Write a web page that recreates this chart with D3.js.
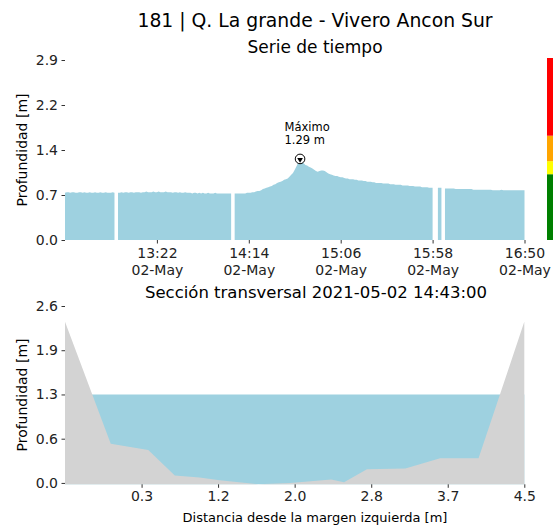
<!DOCTYPE html>
<html>
<head>
<meta charset="utf-8">
<script src="https://cdn.jsdelivr.net/npm/d3@7"></script>
<style>
  body { margin: 0; background: #fff; }
  svg { font-family: "DejaVu Sans", sans-serif; }
</style>
</head>
<body>
<div id="chart"></div>
<script>
// ---- data ----
const stationTitle = '181 | Q. La grande - Vivero Ancon Sur';
const seriesTitle = 'Serie de tiempo';
const sectionTitle = 'Sección transversal 2021-05-02 14:43:00';

// depth readings, one per minute from startTime (null = missing)
const startTime = '2021-05-02 12:30';
const endTime = '2021-05-02 16:50';
const depth = [
  0.76,0.77,0.77,0.76,0.77,0.77,0.76,0.76,0.77,0.77,
  0.76,0.77,0.76,0.76,0.77,0.76,0.76,0.77,0.76,0.76,
  0.77,0.76,0.76,0.77,0.76,0.76,0.76,0.77,0.76,null,
  0.76,0.76,0.77,0.76,0.77,0.77,0.76,0.77,0.77,0.76,
  0.77,0.77,0.77,0.76,0.77,0.77,0.78,0.77,0.77,0.77,
  0.78,0.77,0.77,0.78,0.77,0.77,0.77,0.78,0.77,0.77,
  0.77,0.76,0.77,0.77,0.76,0.77,0.76,0.76,0.77,0.76,
  0.76,0.76,0.75,0.76,0.76,0.75,0.76,0.75,0.76,0.75,
  0.75,0.76,0.75,0.75,0.75,0.76,0.75,0.75,0.75,0.75,
  0.75,0.75,0.75,0.75,0.75,null,0.75,0.75,0.75,0.75,
  0.75,0.75,0.75,0.76,0.76,0.76,0.77,0.77,0.78,0.79,
  0.79,0.80,0.82,0.83,0.84,0.85,0.86,0.87,0.89,0.90,
  0.92,0.93,0.94,0.95,0.97,0.98,0.99,1.02,1.05,1.08,
  1.13,1.19,1.25,1.29,1.27,1.24,1.21,1.20,1.18,1.17,
  1.15,1.13,1.11,1.10,1.11,1.12,1.12,1.11,1.09,1.07,
  1.06,1.05,1.04,1.03,1.03,1.02,1.01,1.01,1.00,0.99,
  0.99,0.98,0.98,0.98,0.97,0.97,0.96,0.96,0.96,0.95,
  0.95,0.94,0.94,0.94,0.93,0.93,0.92,0.92,0.92,0.92,
  0.91,0.91,0.91,0.91,0.90,0.90,0.90,0.89,0.89,0.89,
  0.89,0.88,0.88,0.88,0.88,0.87,0.87,0.87,0.86,0.86,
  0.86,0.86,0.85,0.85,0.85,0.85,0.84,0.84,0.84,null,
  null,0.84,0.84,0.84,null,0.83,0.83,0.83,0.83,0.83,
  0.83,0.82,0.82,0.82,0.82,0.82,0.82,0.82,0.82,0.82,
  0.82,0.81,0.81,0.81,0.81,0.81,0.81,0.81,0.81,0.81,
  0.81,0.81,0.80,0.80,0.80,0.80,0.80,0.81,0.80,0.80,
  0.80,0.80,0.80,0.80,0.80,0.80,0.80,0.80,0.80,0.80,
  0.80
];
const maxTime = '2021-05-02 14:43';
const maxDepth = 1.29;

const topYTicks = [0, 0.725, 1.45, 2.175, 2.9];
const topYLabels = ['0.0', '0.7', '1.4', '2.2', '2.9'];
const topXTicks = ['2021-05-02 13:22', '2021-05-02 14:14', '2021-05-02 15:06', '2021-05-02 15:58', '2021-05-02 16:50'];

// alert bands for the colour bar
const alertBounds = [0, 1.06, 1.27, 1.68, 2.9];
const alertColors = ['#008000', '#ffff00', '#ffa500', '#ff0000'];

// cross section
const sectionX = [-0.5, 0.0, 0.41, 0.70, 0.97, 1.19, 1.61, 1.96, 2.41, 2.55, 2.80, 3.22, 3.60, 4.02, 4.52];
const sectionZ = [2.35, 0.57, 0.48, 0.11, 0.08, 0.04, -0.02, 0.0, 0.05, 0.01, 0.20, 0.21, 0.36, 0.36, 2.35];
const waterLevel = 1.29;

const botYTicks = [0, 0.645, 1.29, 1.935, 2.58];
const botYLabels = ['0.0', '0.6', '1.3', '1.9', '2.6'];
const botXTicks = [0.337, 1.173, 2.01, 2.847, 3.683, 4.52];
const botXLabels = ['0.3', '1.2', '2.0', '2.8', '3.7', '4.5'];

// ---- layout ----
const width = 553, height = 527;
const water = '#9ed1e0';
const ground = '#d3d3d3';

const svg = d3.select('#chart').append('svg')
  .attr('width', width)
  .attr('height', height);

const parse = d3.timeParse('%Y-%m-%d %H:%M');
const t0 = parse(startTime);
const points = depth.map((v, i) => ({ t: d3.timeMinute.offset(t0, i), v }));

function styleAxis(g) {
  g.attr('font-family', null).attr('font-size', null);
  g.select('.domain').remove();
  g.selectAll('.tick line').attr('stroke', '#333');
  g.selectAll('.tick text').attr('font-size', 14).attr('fill', '#222');
}

// titles
svg.append('text').attr('x', 315).attr('y', 27).attr('text-anchor', 'middle')
  .attr('font-size', 18.8).text(stationTitle);
svg.append('text').attr('x', 315).attr('y', 53).attr('text-anchor', 'middle')
  .attr('font-size', 17).text(seriesTitle);

// ---- time series ----
const x = d3.scaleTime()
  .domain([parse(startTime), parse(endTime)])
  .range([65, 524.5]);
const y = d3.scaleLinear().domain([0, 2.9]).range([240, 60]);

const area = d3.area()
  .defined(d => d.v != null)
  .x(d => x(d.t))
  .y0(y(0))
  .y1(d => y(d.v));

svg.append('path')
  .datum(points)
  .attr('fill', water)
  .attr('d', area);

svg.append('g')
  .attr('transform', 'translate(65,0)')
  .call(d3.axisLeft(y).tickValues(topYTicks)
    .tickFormat((d, i) => topYLabels[i]).tickSize(3.5).tickPadding(3.5))
  .call(styleAxis);

const xAxisTop = svg.append('g')
  .attr('transform', 'translate(0,240)')
  .call(d3.axisBottom(x).tickValues(topXTicks.map(parse))
    .tickFormat('').tickSize(3.5).tickPadding(3.5))
  .call(styleAxis);

xAxisTop.selectAll('.tick text').each(function (d) {
  const t = d3.select(this).attr('dy', null).attr('y', 18);
  t.append('tspan').attr('x', 0).text(d3.timeFormat('%H:%M')(d));
  t.append('tspan').attr('x', 0).attr('dy', 16.5).text(d3.timeFormat('%d-%b')(d));
});

svg.append('text')
  .attr('transform', 'translate(27,150) rotate(-90)')
  .attr('text-anchor', 'middle')
  .attr('font-size', 14)
  .text('Profundidad [m]');

// colour bar
svg.append('g').selectAll('rect')
  .data(alertColors)
  .join('rect')
  .attr('x', 547)
  .attr('width', 8)
  .attr('y', (d, i) => y(alertBounds[i + 1]) - (i === alertColors.length - 1 ? 2 : 0))
  .attr('height', (d, i) => y(alertBounds[i]) - y(alertBounds[i + 1]) + (i === alertColors.length - 1 ? 2 : 0))
  .attr('fill', d => d);

// maximum marker
const mx = x(parse(maxTime)), my = y(maxDepth);
svg.append('circle').attr('cx', mx).attr('cy', my - 1).attr('r', 4.8)
  .attr('fill', '#fff').attr('stroke', '#000').attr('stroke-width', 1);
svg.append('path')
  .attr('d', d3.symbol(d3.symbolTriangle, 14)())
  .attr('transform', `translate(${mx},${my - 0.4}) rotate(180)`)
  .attr('fill', '#000');
svg.append('text').attr('x', mx - 15.5).attr('y', my - 28.5)
  .attr('font-size', 11.5).text('Máximo');
svg.append('text').attr('x', mx - 15.5).attr('y', my - 15.5)
  .attr('font-size', 11.5).text(`${maxDepth} m`);

// ---- cross section ----
svg.append('text').attr('x', 316).attr('y', 298).attr('text-anchor', 'middle')
  .attr('font-size', 16.5).text(sectionTitle);

const xs = d3.scaleLinear().domain([sectionX[0], sectionX[sectionX.length - 1]]).range([65, 524.3]);
const ys = d3.scaleLinear().domain([d3.min(sectionZ), 2.58]).range([484.3, 306]);
const section = sectionX.map((d, i) => ({ x: d, z: sectionZ[i] }));

// water body, covered below ground by the terrain
svg.append('path')
  .datum(xs.domain())
  .attr('fill', water)
  .attr('d', d3.area().x(d => xs(d)).y0(ys.range()[0]).y1(ys(waterLevel)));

svg.append('path')
  .datum(section)
  .attr('fill', ground)
  .attr('d', d3.area().x(d => xs(d.x)).y0(ys.range()[0]).y1(d => ys(d.z)));

svg.append('g')
  .attr('transform', 'translate(65,0)')
  .call(d3.axisLeft(ys).tickValues(botYTicks)
    .tickFormat((d, i) => botYLabels[i]).tickSize(3.5).tickPadding(3.5))
  .call(styleAxis);

svg.append('g')
  .attr('transform', `translate(0,${ys.range()[0]})`)
  .call(d3.axisBottom(xs).tickValues(botXTicks)
    .tickFormat((d, i) => botXLabels[i]).tickSize(3.5).tickPadding(3.5))
  .call(styleAxis);

svg.append('text')
  .attr('transform', 'translate(27,395) rotate(-90)')
  .attr('text-anchor', 'middle')
  .attr('font-size', 14)
  .text('Profundidad [m]');

svg.append('text').attr('x', 315).attr('y', 522).attr('text-anchor', 'middle')
  .attr('font-size', 13).text('Distancia desde la margen izquierda [m]');
</script>
</body>
</html>
